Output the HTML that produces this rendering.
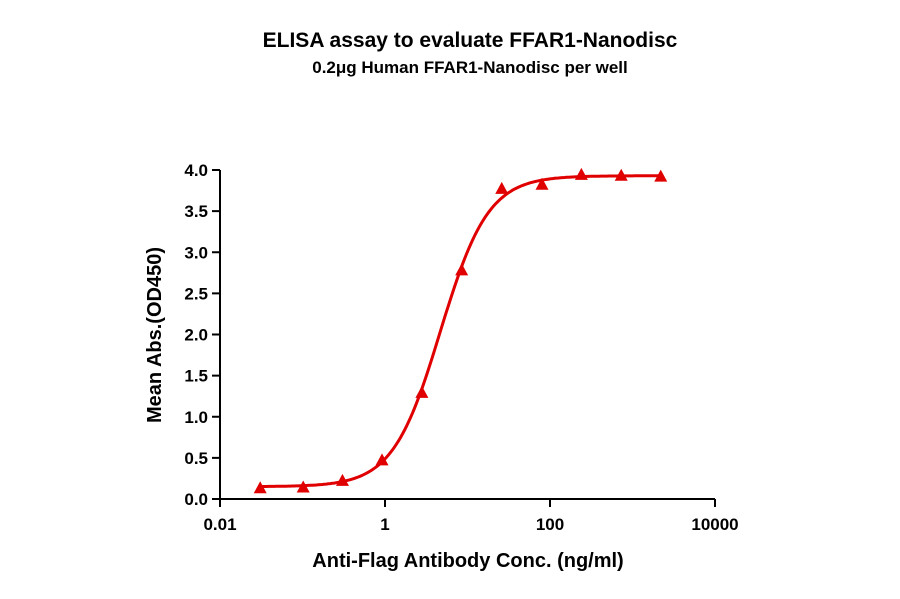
<!DOCTYPE html>
<html><head><meta charset="utf-8">
<style>
body{margin:0;background:#fff;}
svg text{font-family:"Liberation Sans",Arial,sans-serif;font-weight:bold;fill:#000;}
</style></head>
<body>
<svg id="chart" width="900" height="594" viewBox="0 0 900 594">
<text x="470" y="47" text-anchor="middle" font-size="21">ELISA assay to evaluate FFAR1-Nanodisc</text>
<text x="470" y="73" text-anchor="middle" font-size="17">0.2μg Human FFAR1-Nanodisc per well</text>
<text x="468" y="567" text-anchor="middle" font-size="20">Anti-Flag Antibody Conc. (ng/ml)</text>
<text transform="translate(161,335) rotate(-90)" text-anchor="middle" font-size="20">Mean Abs.(OD450)</text>
<g id="axes"></g>
<g id="marks"></g>
</svg>
<script>
const xTicks=[0.01,1,100,10000];
const xTickLabels=["0.01","1","100","10000"];
const yTicks=[0,0.5,1,1.5,2,2.5,3,3.5,4];
const yTickLabels=["0.0","0.5","1.0","1.5","2.0","2.5","3.0","3.5","4.0"];
const concentrations=[0.0307,0.102,0.305,0.92,2.8,8.5,26,80,240,730,2200];
const absorbance=[0.13,0.14,0.22,0.47,1.29,2.78,3.77,3.82,3.94,3.93,3.92];
const fitBottom=[0.15];const fitTop=[3.93];const fitEC50=[4.7];const fitHill=[1.5];

const X0=220,X1=715,Y0=499,Y1=170;
const xs=v=>X0+(Math.log10(v)+2)/6*(X1-X0);
const ys=v=>Y0-v/4*(Y0-Y1);
const NS="http://www.w3.org/2000/svg";
const ax=document.getElementById('axes'),mk=document.getElementById('marks');
function mkEl(t,a,p){const e=document.createElementNS(NS,t);for(const k in a)e.setAttribute(k,a[k]);p.appendChild(e);return e;}
let e=mkEl('line',{x1:X0,y1:Y0,x2:X1,y2:Y0,stroke:'#000','stroke-width':2},ax);


e=mkEl('line',{x1:X0,y1:Y0,x2:X0,y2:Y1,stroke:'#000','stroke-width':2},ax);


xTicks.forEach((t,i)=>{
 const x=xs(t);
 let l=mkEl('line',{x1:x,y1:Y0,x2:x,y2:Y0+8,stroke:'#000','stroke-width':2},ax);
 
 
 let tx=mkEl('text',{x:x,y:Y0+31,'text-anchor':'middle','font-size':17},ax);tx.textContent=xTickLabels[i];
 
 
});
yTicks.forEach((t,i)=>{
 const y=ys(t);
 let l=mkEl('line',{x1:X0-8,y1:y,x2:X0,y2:y,stroke:'#000','stroke-width':2},ax);
 
 
 let tx=mkEl('text',{x:X0-12,y:y+6,'text-anchor':'end','font-size':17},ax);tx.textContent=yTickLabels[i];
 
 
});
let d='';
for(let i=0;i<=200;i++){const lx=Math.log10(concentrations[0])+i/200*(Math.log10(concentrations[concentrations.length-1])-Math.log10(concentrations[0]));const c=Math.pow(10,lx);
 const y=fitBottom[0]+(fitTop[0]-fitBottom[0])/(1+Math.pow(fitEC50[0]/c,fitHill[0]));d+=(i?'L':'M')+xs(c).toFixed(1)+','+ys(y).toFixed(1);}
let p=mkEl('path',{d:d,fill:'none',stroke:'#e00000','stroke-width':3},mk);


concentrations.forEach((c,i)=>{const x=xs(c),y=ys(absorbance[i]);
 let t=mkEl('polygon',{points:`${x},${y-7} ${x-6.5},${y+5} ${x+6.5},${y+5}`,fill:'#e00000'},mk);
 
 });
</script>
</body></html>
